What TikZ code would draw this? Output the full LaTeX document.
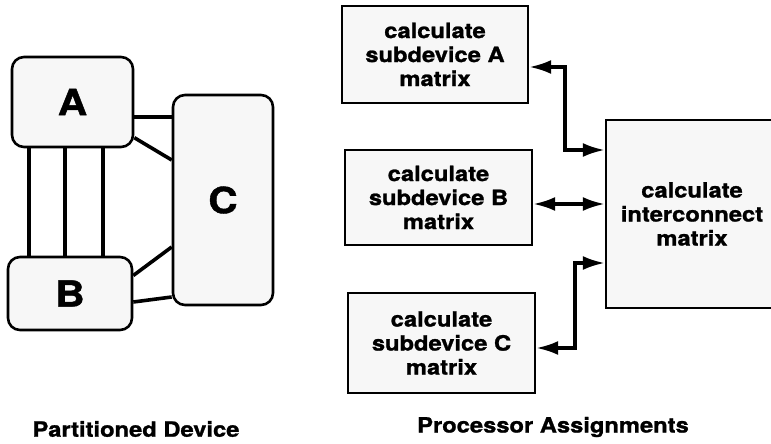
\documentclass[tikz,border=0pt]{standalone}
\usepackage{fontspec}
\setmainfont{TeX Gyre Heros}[FakeStretch=1.13, BoldFeatures={FakeBold=1.2}]
\usepackage{tikz}
\usetikzlibrary{arrows.meta, positioning, calc}

\begin{document}
\begin{tikzpicture}[x=1pt, y=-1pt,
  part/.style={draw, line width=2.6pt, rounded corners=12pt, fill=black!3,
    font=\bfseries\fontsize{36}{38}\selectfont},
  task/.style={draw, line width=2.4pt, fill=black!3, align=center,
    font=\bfseries\fontsize{21}{24}\selectfont},
  wire/.style={line width=3.6pt},
  link/.style={line width=3.2pt, {Latex[length=22pt,width=14pt]}-{Latex[length=22pt,width=14pt]}},
  title/.style={font=\bfseries\fontsize{21}{24}\selectfont}]
  \useasboundingbox (0,0) rectangle (771,444);

  % Partitioned device
  \node[part, minimum width=121pt, minimum height=90pt] (a) at (72.5,102) {A};
  \node[part, minimum width=124pt, minimum height=73pt] (b) at (70,293.5) {B};
  \node[part, minimum width=100pt, minimum height=210pt] (c) at (223,200) {C};

  % Connections between subdevices
  \foreach \dx in {-43.5,-7.5,30.5} {
    \coordinate (t) at ([xshift=\dx pt]a.south);
    \draw[wire] (t) -- (t |- b.north);
  }
  \coordinate (h1) at ([yshift=-15pt]a.east);
  \draw[wire] (h1) -- (h1 -| c.west);
  \draw[wire] (a.-30) -- ([yshift=40pt]c.west);
  \draw[wire] ([yshift=18pt]b.east) -- ([yshift=-47pt]c.west);
  \draw[wire] ([yshift=-8.5pt]b.east) -- ([yshift=-97pt]c.west);

  % Processor assignments
  \node[task, minimum width=186pt, minimum height=97pt] (ca) at (435,54.5) {calculate\\subdevice A\\matrix};
  \node[task, minimum width=187pt, minimum height=95pt] (cb) at (438.5,197.5) {calculate\\subdevice B\\matrix};
  \node[task, minimum width=187pt, minimum height=100pt] (cc) at (441.5,343) {calculate\\subdevice C\\matrix};
  \node[task, minimum width=172pt, minimum height=188pt] (ic) at (692,214) {calculate\\interconnect\\matrix};

  % Data exchange
  \coordinate (ja) at (565,150);
  \coordinate (jb) at ([yshift=-6.5pt]cb.east);
  \coordinate (jc) at (575,263);
  \draw[link] ([yshift=-12.5pt]ca.east) -| (ja) -- (ja -| ic.west);
  \draw[link] (jb) -- (jb -| ic.west);
  \draw[link] ([yshift=-5pt]cc.east) -| (jc) -- (jc -| ic.west);

  % Titles
  \node[title] (lp) at (136,429) {Partitioned Device};
  \node[title] (lq) at (553,427) {Processor Assignments};
\end{tikzpicture}
\end{document}
